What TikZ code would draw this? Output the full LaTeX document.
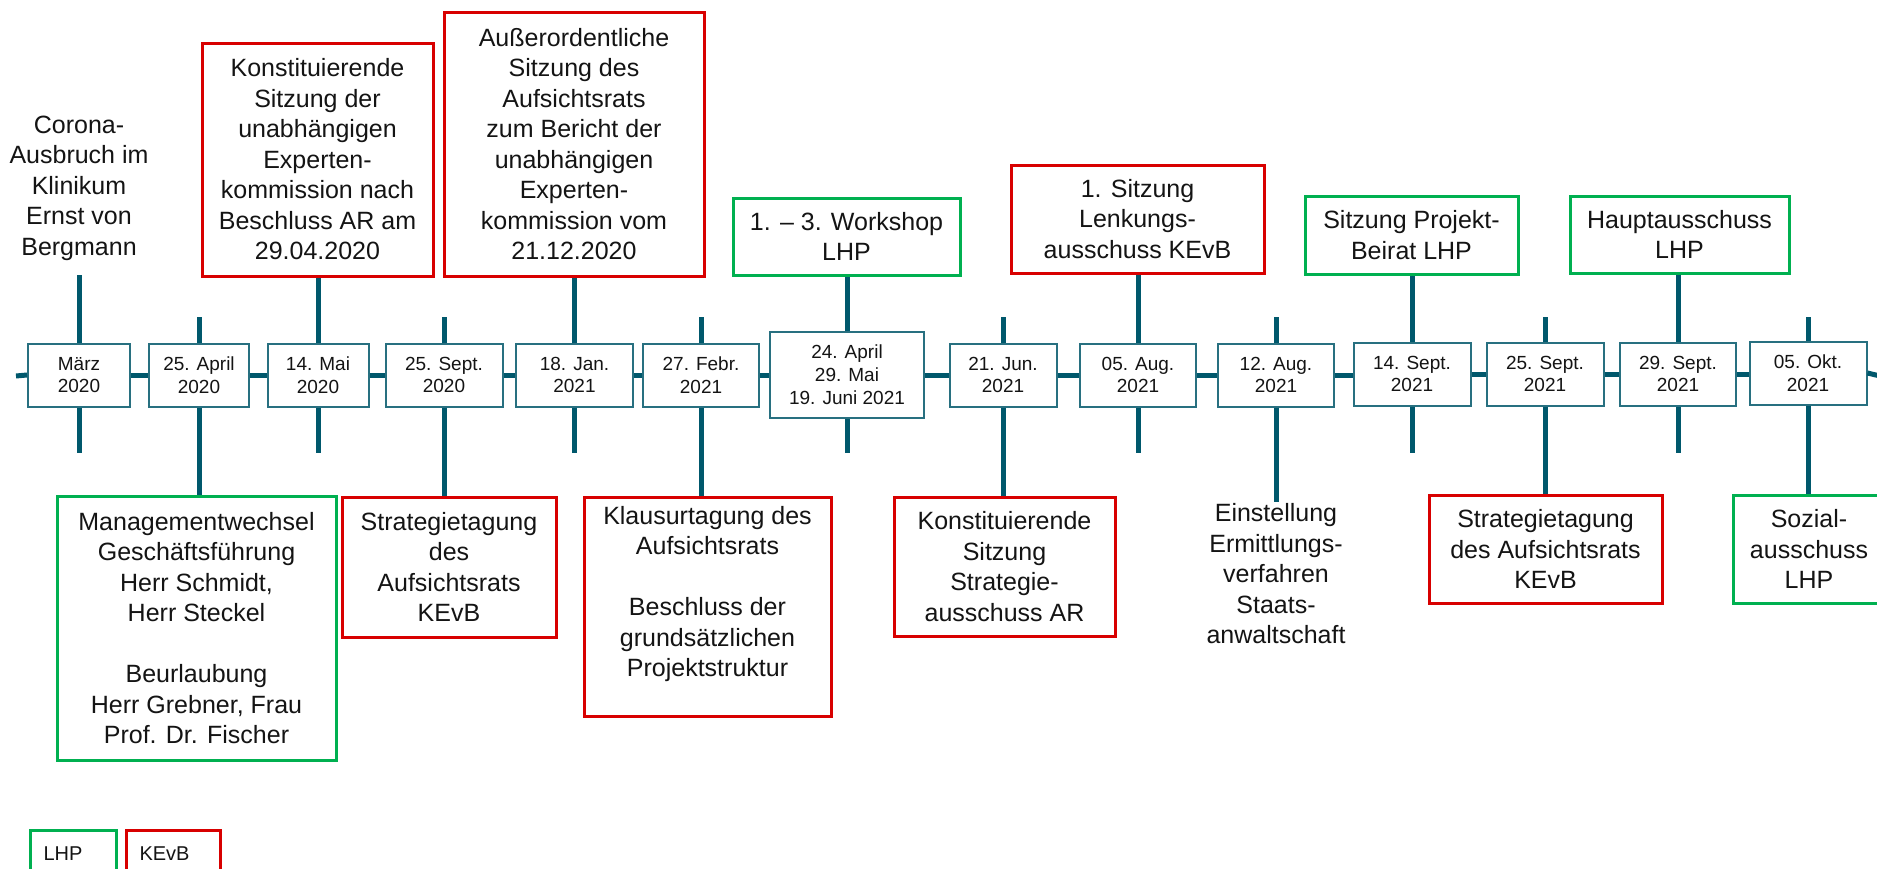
\documentclass[tikz,border=0pt]{standalone}
\usepackage{fontspec}
\setmainfont{Liberation Sans}
\definecolor{tlc}{RGB}{0,88,108}
\definecolor{dbc}{RGB}{40,112,128}
\definecolor{kred}{RGB}{216,0,0}
\definecolor{lgreen}{RGB}{0,176,80}
\definecolor{txt}{RGB}{20,20,20}
\begin{document}
\begin{tikzpicture}[x=1pt,y=-1pt,
  tl/.style={draw=tlc,line width=5pt},
  datebox/.style={draw=dbc,line width=2pt,fill=white,align=center,text=txt,
    font=\fontsize{19}{22.8}\selectfont,minimum height=63pt,inner sep=2pt},
  evbox/.style={line width=3pt,fill=white,align=center,text=txt,
    font=\fontsize{25}{30.5}\selectfont,inner sep=2pt},
  kevb/.style={evbox,draw=kred},
  lhp/.style={evbox,draw=lgreen},
  evtext/.style={align=center,text=txt,font=\fontsize{25}{30.5}\selectfont,inner sep=2pt},
  legbox/.style={line width=3pt,anchor=north west,text=txt,font=\fontsize{20}{24}\selectfont,
    minimum height=46pt,align=left,inner xsep=13pt,inner ysep=2pt}
]
\clip (0,0) rectangle (1877,868);
\fill[white] (0,0) rectangle (1877,868);

% date boxes
\node[datebox,minimum width=102pt] (d1) at (79,375) {März\\2020};
\node[datebox,minimum width=100pt] (d2) at (199,375) {25. April\\2020};
\node[datebox,minimum width=101pt] (d3) at (318,375) {14. Mai\\2020};
\node[datebox,minimum width=117pt] (d4) at (444,375) {25. Sept.\\2020};
\node[datebox,minimum width=117pt] (d5) at (574.5,375) {18. Jan.\\2021};
\node[datebox,minimum width=116pt] (d6) at (701,375) {27. Febr.\\2021};
\node[datebox,minimum width=154pt,minimum height=86pt] (d7) at (847,375) {24. April\\29. Mai\\19. Juni 2021};
\node[datebox,minimum width=107pt] (d8) at (1003,375) {21. Jun.\\2021};
\node[datebox,minimum width=116pt] (d9) at (1138,375) {05. Aug.\\2021};
\node[datebox,minimum width=116pt] (d10) at (1276,375) {12. Aug.\\2021};
\node[datebox,minimum width=117pt] (d11) at (1412,374) {14. Sept.\\2021};
\node[datebox,minimum width=117pt] (d12) at (1545,374) {25. Sept.\\2021};
\node[datebox,minimum width=116pt] (d13) at (1678,374) {29. Sept.\\2021};
\node[datebox,minimum width=117pt] (d14) at (1808,373) {05. Okt.\\2021};

% timeline segments
\coordinate (tlA) at (16,376);
\coordinate (tlB) at (1880,376);
\draw[tl] (tlA) -- (d1.west);
\foreach \a/\b in {d1/d2,d2/d3,d3/d4,d4/d5,d5/d6,d6/d7,d7/d8,d8/d9,d9/d10,d10/d11,d11/d12,d12/d13,d13/d14}
  \draw[tl] (\a.east) -- (\b.west |- \a.east);
\draw[tl] (d14.east) -- (tlB);

% upper events
\node[evtext] (corona) at (79,188) {Corona-\\Ausbruch im\\Klinikum\\Ernst von\\Bergmann};
\node[kevb,minimum width=231pt,minimum height=233pt] (konst) at (317.5,159.5)
  {Konstituierende\\Sitzung der\\unabhängigen\\Experten-\\kommission nach\\Beschluss AR am\\29.04.2020};
\node[kevb,minimum width=260pt,minimum height=264pt] (auss) at (574,144)
  {Außerordentliche\\Sitzung des\\Aufsichtsrats\\zum Bericht der\\unabhängigen\\Experten-\\kommission vom\\21.12.2020};
\node[lhp,minimum width=227pt,minimum height=77pt] (work) at (846.5,236.5) {1. – 3. Workshop\\LHP};
\node[kevb,minimum width=253pt,minimum height=108pt] (sitz) at (1137.5,219) {1. Sitzung\\Lenkungs-\\ausschuss KEvB};
\node[lhp,minimum width=213pt,minimum height=78pt] (proj) at (1411.5,235) {Sitzung Projekt-\\Beirat LHP};
\node[lhp,minimum width=219pt,minimum height=77pt] (haupt) at (1679.5,234.5) {Hauptausschuss\\LHP};

% lower events
\node[lhp,minimum width=279pt,minimum height=264pt] (mgmt) at (196.5,628)
  {Managementwechsel\\Geschäftsführung\\Herr Schmidt,\\Herr Steckel\\[30.5pt]Beurlaubung\\Herr Grebner, Frau\\Prof. Dr. Fischer};
\node[kevb,minimum width=214pt,minimum height=140pt] (strat1) at (449,567)
  {Strategietagung\\des\\Aufsichtsrats\\KEvB};
\node[kevb,minimum width=247pt,minimum height=219pt] (klaus) at (707.5,606.5)
  {Klausurtagung des\\Aufsichtsrats\\[30.5pt]Beschluss der\\grundsätzlichen\\Projektstruktur\\\mbox{}};
\node[kevb,minimum width=221pt,minimum height=139pt] (konst2) at (1004.5,566.5)
  {Konstituierende\\Sitzung\\Strategie-\\ausschuss AR};
\node[evtext] (einst) at (1276,574) {Einstellung\\Ermittlungs-\\verfahren\\Staats-\\anwaltschaft};
\node[kevb,minimum width=233pt,minimum height=108pt] (strat2) at (1545.5,549)
  {Strategietagung\\des Aufsichtsrats\\KEvB};
\node[lhp,minimum width=152pt,minimum height=108pt] (sozial) at (1809,549) {Sozial-\\ausschuss\\LHP};

% legend
\node[legbox,draw=lgreen,text width=60pt] (legL) at (29,829) {LHP};
\node[legbox,draw=kred,text width=68pt] (legK) at (125,829) {KEvB};

% long connectors
\coordinate (c1) at (79,275);
\draw[tl] (d1.north) -- (c1);
\draw[tl] (d2.south) -- (d2.south |- mgmt.north);
\draw[tl] (d3.north) -- (d3.north |- konst.south);
\draw[tl] (d4.south) -- (d4.south |- strat1.north);
\draw[tl] (d5.north) -- (d5.north |- auss.south);
\draw[tl] (d6.south) -- (d6.south |- klaus.north);
\draw[tl] (d7.north) -- (d7.north |- work.south);
\draw[tl] (d8.south) -- (d8.south |- konst2.north);
\draw[tl] (d9.north) -- (d9.north |- sitz.south);
\draw[tl] (d10.south) -- (einst.north);
\draw[tl] (d11.north) -- (d11.north |- proj.south);
\draw[tl] (d12.south) -- (d12.south |- strat2.north);
\draw[tl] (d13.north) -- (d13.north |- haupt.south);
\draw[tl] (d14.south) -- (d14.south |- sozial.north);

% short ticks
\foreach \d/\x in {d2/199,d4/444,d6/701,d8/1003,d10/1276,d12/1545,d14/1808}{
  \coordinate (u\d) at (\x,317);
  \draw[tl] (\d.north) -- (u\d);
}
\foreach \d/\x in {d1/79,d3/318,d5/574.5,d7/847,d9/1138,d11/1412,d13/1678}{
  \coordinate (b\d) at (\x,453);
  \draw[tl] (\d.south) -- (b\d);
}
\end{tikzpicture}
\end{document}
